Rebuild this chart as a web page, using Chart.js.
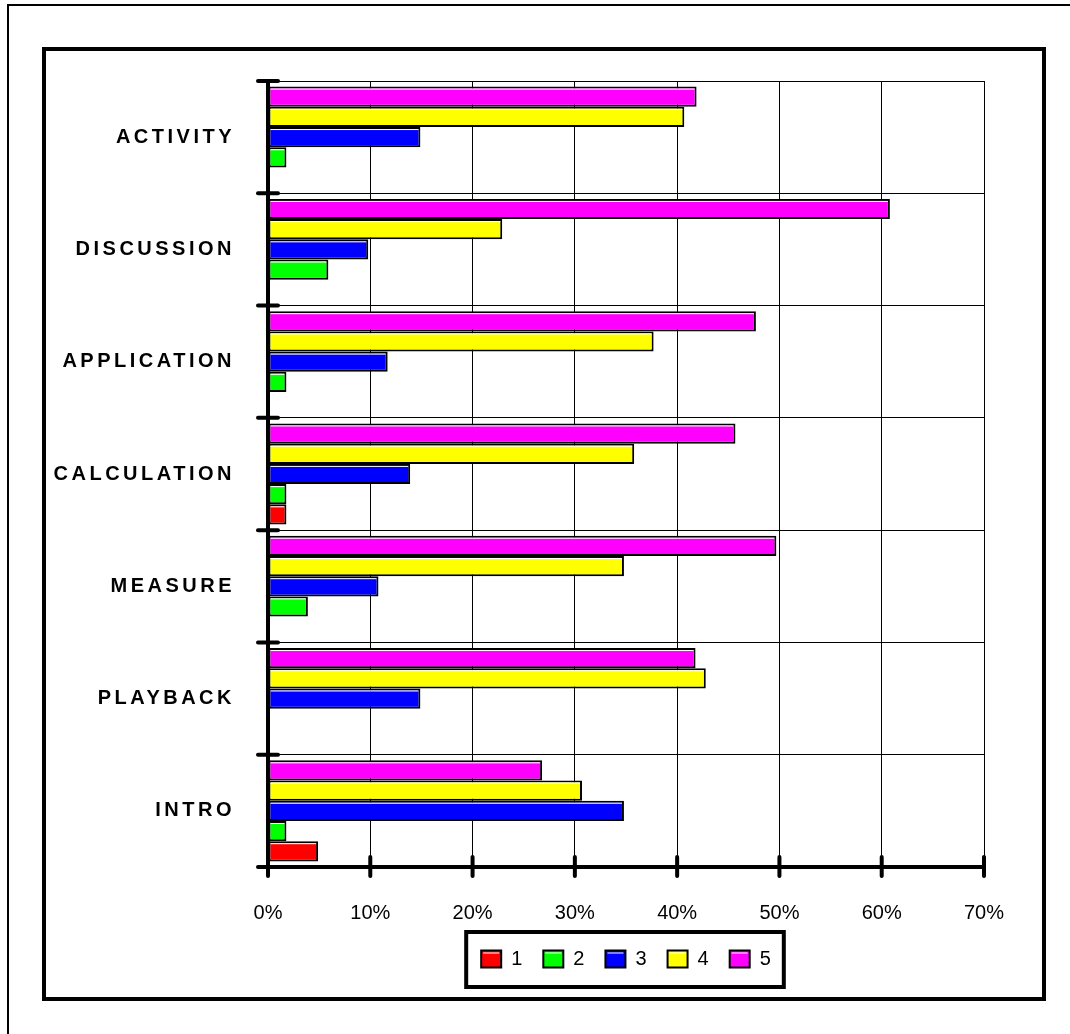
<!DOCTYPE html>
<html>
<head>
<meta charset="utf-8">
<script src="https://cdn.jsdelivr.net/npm/chart.js@4"></script>
<style>
body { margin: 0; background: #fff; }
</style>
</head>
<body>
<canvas id="chart" width="1070" height="1034"></canvas>
<script>
// lesson segments, top to bottom
var categories = ['ACTIVITY', 'DISCUSSION', 'APPLICATION', 'CALCULATION', 'MEASURE', 'PLAYBACK', 'INTRO']
// share of answers (%) for each rating
var rating1 = [0, 0, 0, 1.8, 0, 0, 4.9]
var rating2 = [1.8, 5.9, 1.8, 1.8, 3.9, 0, 1.8]
var rating3 = [14.9, 9.8, 11.7, 13.9, 10.8, 14.9, 34.8]
var rating4 = [40.7, 22.9, 37.7, 35.8, 34.8, 42.8, 30.7]
var rating5 = [41.9, 60.8, 47.7, 45.7, 49.7, 41.8, 26.8]
var ratingNames = ['1', '2', '3', '4', '5']
var ratingColors = ['#ff0000', '#00ff00', '#0000ff', '#ffff00', '#ff00ff']
var axisMax = 70
var axisStep = 10

Chart.defaults.font.family = "'Liberation Sans', Arial, sans-serif"
Chart.defaults.color = '#000'

var series = [rating1, rating2, rating3, rating4, rating5]
var datasets = []
// rating 5 goes first so it sits on top of each group
for (var i = series.length - 1; i >= 0; i--) {
    datasets.push({
        label: ratingNames[i],
        data: series[i],
        backgroundColor: ratingColors[i],
        borderColor: '#000',
        borderWidth: 2,
        borderSkipped: false,
        categoryPercentage: 0.9,
        barPercentage: 1.0
    })
}

var decorations = {
    id: 'decorations',
    beforeDraw(chart) {
        var c = chart.ctx
        c.save()
        c.fillStyle = '#fff'
        c.fillRect(0, 0, chart.width, chart.height)
        c.strokeStyle = '#000'
        c.lineWidth = 2
        c.strokeRect(8, 5, chart.width + 20, chart.height + 20)
        c.lineWidth = 4
        c.strokeRect(44, 49, 1000, 950)
        c.restore()
    },
    afterDatasetsDraw(chart) {
        // thin white highlight along the top of every bar
        var c = chart.ctx
        c.save()
        c.fillStyle = '#fff'
        chart.data.datasets.forEach((ds, di) => {
            chart.getDatasetMeta(di).data.forEach(bar => {
                var p = bar.getProps(['x', 'y', 'base', 'height'], true)
                if (p.x - p.base < 6) return
                c.fillRect(p.base + 2, p.y - p.height / 2 + 2, p.x - p.base - 4, 1)
            })
        })
        c.restore()
    },
    afterDraw(chart) {
        var c = chart.ctx
        var xs = chart.scales.x
        var ys = chart.scales.y
        c.save()
        c.strokeStyle = '#000'
        c.lineWidth = 4
        c.lineCap = 'round'
        // tick marks crossing the value axis
        xs.ticks.forEach((t, i) => {
            var px = xs.getPixelForTick(i)
            c.beginPath()
            c.moveTo(px, ys.bottom - 10)
            c.lineTo(px, ys.bottom + 9)
            c.stroke()
        })
        // tick marks at category boundaries
        var n = categories.length
        for (var k = 0; k <= n; k++) {
            var py = ys.top + k * (ys.bottom - ys.top) / n
            c.beginPath()
            c.moveTo(xs.left - 10, py)
            c.lineTo(xs.left + 10, py)
            c.stroke()
        }
        // category labels, letter spaced
        c.font = "bold 20px 'Liberation Sans', Arial, sans-serif"
        c.letterSpacing = '3.5px'
        c.fillStyle = '#000'
        c.textAlign = 'right'
        c.textBaseline = 'middle'
        categories.forEach((name, i) => {
            c.fillText(name, xs.left - 33, ys.getPixelForTick(i))
        })
        c.letterSpacing = '0px'
        // frame round the legend
        var boxes = chart.legend.legendHitBoxes
        var left = Math.min(...boxes.map(b => b.left)) - 15
        var right = Math.max(...boxes.map(b => b.left + b.width)) + 13
        var mid = boxes[0].top + boxes[0].height / 2
        c.lineCap = 'butt'
        c.strokeRect(left, mid - 27, right - left, 55)
        // highlight on the legend swatches
        c.fillStyle = '#fff'
        boxes.forEach(b => {
            c.fillRect(b.left + 2, mid - 8.5 + 2, 16, 1)
        })
        c.restore()
    }
}

new Chart(document.getElementById('chart'), {
    type: 'bar',
    data: {
        labels: categories,
        datasets: datasets
    },
    options: {
        indexAxis: 'y',
        responsive: false,
        animation: false,
        devicePixelRatio: 1,
        layout: {
            padding: { left: 0, right: 86, top: 81, bottom: 55 }
        },
        scales: {
            x: {
                min: 0,
                max: axisMax,
                ticks: {
                    stepSize: axisStep,
                    callback: v => v + '%',
                    font: { size: 20 },
                    color: '#000',
                    padding: 34,
                    maxRotation: 0
                },
                grid: { color: '#000', lineWidth: 1, drawTicks: false },
                border: { color: '#000', width: 4 },
                afterFit(s) { s.height = 61 }
            },
            y: {
                ticks: { display: false },
                grid: { color: '#000', lineWidth: 1, drawTicks: false },
                border: { color: '#000', width: 4 },
                afterFit(s) { s.width = 268 }
            }
        },
        plugins: {
            tooltip: { enabled: false },
            legend: {
                position: 'bottom',
                fullSize: false,
                reverse: true,
                labels: {
                    boxWidth: 20,
                    boxHeight: 17,
                    padding: 21,
                    color: '#000',
                    font: { size: 20 }
                }
            }
        }
    },
    plugins: [decorations]
})
</script>
</body>
</html>
